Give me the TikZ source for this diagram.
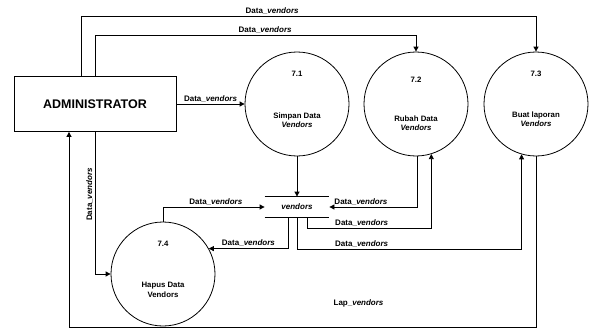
\documentclass[tikz,border=0pt]{standalone}
\usepackage{fontspec}
\setmainfont{Liberation Sans}
\usetikzlibrary{arrows.meta}
\usetikzlibrary{positioning}

\tikzset{
  proc/.style={draw, circle, minimum size=104pt, inner sep=0pt},
  ptext/.style={font=\fontsize{7.8}{9.5}\selectfont\bfseries, align=center, inner sep=0pt},
  flow/.style={-{Triangle[length=5pt, width=5pt]}},
  lbl/.style={font=\fontsize{8}{9}\selectfont\bfseries, inner sep=1.5pt},
}

\begin{document}
\begin{tikzpicture}[x=1pt, y=-1pt, line width=0.8pt]
                      \useasboundingbox (0,0) rectangle (590,332);

                      \node[draw, minimum width=162pt, minimum height=55pt, font=\fontsize{12.5}{14}\selectfont\bfseries] (admin) at (95,104) {ADMINISTRATOR};

                      %Processes
                      \node[proc] (p71) at (297,104) {};
                      \node[proc] (p72) at (416,104) {};
                      \node[proc] (p73) at (536,104) {};
                      \node[proc] (p74) at (163,274) {};
                      \node[ptext] (n71) at (297,74) {7.1};
                      \node[ptext] (n72) at (416,80) {7.2};
                      \node[ptext] (n73) at (536,74) {7.3};
                      \node[ptext] (n74) at (163,244) {7.4};
                      \node[ptext] (t71) at (297,120) {Simpan Data\\\textit{Vendors}};
                      \node[ptext] (t72) at (416,123) {Rubah Data\\\textit{Vendors}};
                      \node[ptext] (t73) at (536,119) {Buat laporan\\\textit{Vendors}};
                      \node[ptext] (t74) at (163,290) {Hapus Data\\Vendors};

                      %Data store
                      \node[minimum width=64pt, minimum height=20pt, inner sep=0pt, font=\fontsize{8}{9}\selectfont\bfseries\itshape] (store) at (297,207) {vendors};
                      \draw (store.north west) -- (store.north east);
                      \draw (store.south west) -- (store.south east);

                      \coordinate (ktop) at (81,16);
                      \coordinate (kmid) at (95,35);
                      \coordinate (kbot) at (69,327);

                      %Flows
                      \draw[flow] (admin.east) -- node[lbl, above] {Data\_\textit{vendors}} (p71.west);
                      \draw[flow] ([xshift=-14pt]admin.north) -- (ktop) -| node[lbl, above, pos=0.21] {Data\_\textit{vendors}} (p73.north);
                      \draw[flow] (admin.north) -- (kmid) -| node[lbl, above, pos=0.265] {Data\_\textit{vendors}} (p72.north);
                      \draw[flow] (admin.south) |- node[lbl, rotate=90, above, pos=0.22] {Data\_\textit{vendors}} (p74.west);
                      \draw[flow] (p73.south) |- node[lbl, pos=0.69, above=18pt] {Lap\_\textit{vendors}} (kbot) -- ([xshift=-26pt]admin.south);

                      \draw[flow] (p71.south) -- (store.north);
                      \draw[flow] (p74.north) |- node[lbl, above, pos=0.76] {Data\_\textit{vendors}} (store.west);
                      \draw[flow] ([xshift=1pt]p72.south) |- node[lbl, above, pos=0.82] {Data\_\textit{vendors}} (store.east);
                      \draw[flow] ([xshift=10pt]store.south) -- ++(0,11) -| node[lbl, above, pos=0.22] {Data\_\textit{vendors}} (p72.-73);
                      \draw[flow] (store.south) -- ++(0,32) -| node[lbl, above, pos=0.144] {Data\_\textit{vendors}} (p73.-106);
                      \draw[flow] ([xshift=-9pt]store.south) |- node[lbl, above, pos=0.75] {Data\_\textit{vendors}} (p74.29);
                    \end{tikzpicture}
\end{document}
